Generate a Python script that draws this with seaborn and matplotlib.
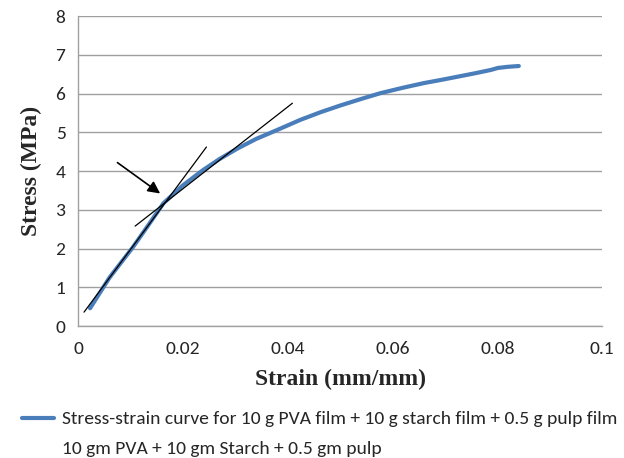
import matplotlib
matplotlib.use("Agg")
import matplotlib.pyplot as plt
import seaborn as sns
import pandas as pd
from matplotlib.lines import Line2D

# Stress-strain curve
strain = [0.0023, 0.0060, 0.0105, 0.0135, 0.0163, 0.0200, 0.0239, 0.0270,
          0.0304, 0.0340, 0.0380, 0.0424, 0.0463, 0.0500, 0.0540, 0.0577,
          0.0620, 0.0660, 0.0692, 0.0730, 0.0760, 0.0788, 0.0801, 0.0820,
          0.0841]
stress = [0.46, 1.25, 2.04, 2.62, 3.17, 3.63, 4.03, 4.31,
          4.58, 4.83, 5.06, 5.32, 5.52, 5.69, 5.86, 6.01,
          6.15, 6.27, 6.35, 6.45, 6.53, 6.61, 6.66, 6.69,
          6.71]

# Tangent lines drawn by hand
tangent1_x = [0.00115, 0.0245]
tangent1_y = [0.36, 4.62]
tangent2_x = [0.0109, 0.0409]
tangent2_y = [2.58, 5.75]

# Arrow pointing at the yield point
arrow_start = (0.0071, 4.26)
arrow_end = (0.0161, 3.38)

x_ticks = [0, 0.02, 0.04, 0.06, 0.08, 0.1]
x_tick_labels = ["0", "0.02", "0.04", "0.06", "0.08", "0.1"]
y_ticks = [0, 1, 2, 3, 4, 5, 6, 7, 8]

curve_label = "Stress-strain curve for 10 g PVA film + 10 g starch film + 0.5 g pulp film"
tangent_label = "10 gm PVA + 10 gm Starch + 0.5 gm pulp"

sns.set_theme(style="white")
plt.rcParams['font.family'] = ['Carlito', 'Lato', 'DejaVu Sans']

df = pd.DataFrame({"strain": strain, "stress": stress})

fig = plt.figure(figsize=(6.24, 4.58), dpi=100)
ax = fig.add_axes([0.125, 0.288, 0.84, 0.677])

sns.lineplot(data=df, x="strain", y="stress", ax=ax, color="#4a7ebb",
             linewidth=3, solid_capstyle="round", zorder=3)
ax.plot(tangent1_x, tangent1_y, color="black", linewidth=0.9, zorder=4)
ax.plot(tangent2_x, tangent2_y, color="black", linewidth=0.9, zorder=4)
ax.annotate("", xy=arrow_end, xytext=arrow_start,
            arrowprops=dict(arrowstyle="-|>", color="black", lw=1.2,
                            mutation_scale=18), zorder=5)

ax.set_xlim(0, 0.1)
ax.set_ylim(0, 8)
ax.set_xticks(x_ticks)
ax.set_xticklabels(x_tick_labels)
ax.set_yticks(y_ticks)
ax.tick_params(axis="x", labelsize=14, length=0, pad=11)
ax.tick_params(axis="y", labelsize=14, length=0, pad=9)

ax.yaxis.grid(True, color="#a0a0a0", linewidth=1)
ax.xaxis.grid(False)
ax.set_axisbelow(True)
for side in ["top", "right"]:
    ax.spines[side].set_visible(False)
for side in ["left", "bottom"]:
    ax.spines[side].set_color("#a0a0a0")
    ax.spines[side].set_linewidth(1)

ax.set_xlabel("Strain (mm/mm)", fontsize=17, fontweight="bold",
              family="Liberation Serif", labelpad=8)
ax.set_ylabel("Stress (MPa)", fontsize=17, fontweight="bold",
              family="Liberation Serif", labelpad=10)

handles = [Line2D([0], [0], color="#4a7ebb", linewidth=3),
           Line2D([0], [0], color="none")]
fig.legend(handles, [curve_label, tangent_label], loc="upper left",
           bbox_to_anchor=(0.022, 0.12), frameon=False, fontsize=14,
           handlelength=1.65, handletextpad=0.45, labelspacing=0.68,
           borderaxespad=0)

fig.savefig("out.png", dpi=100)
